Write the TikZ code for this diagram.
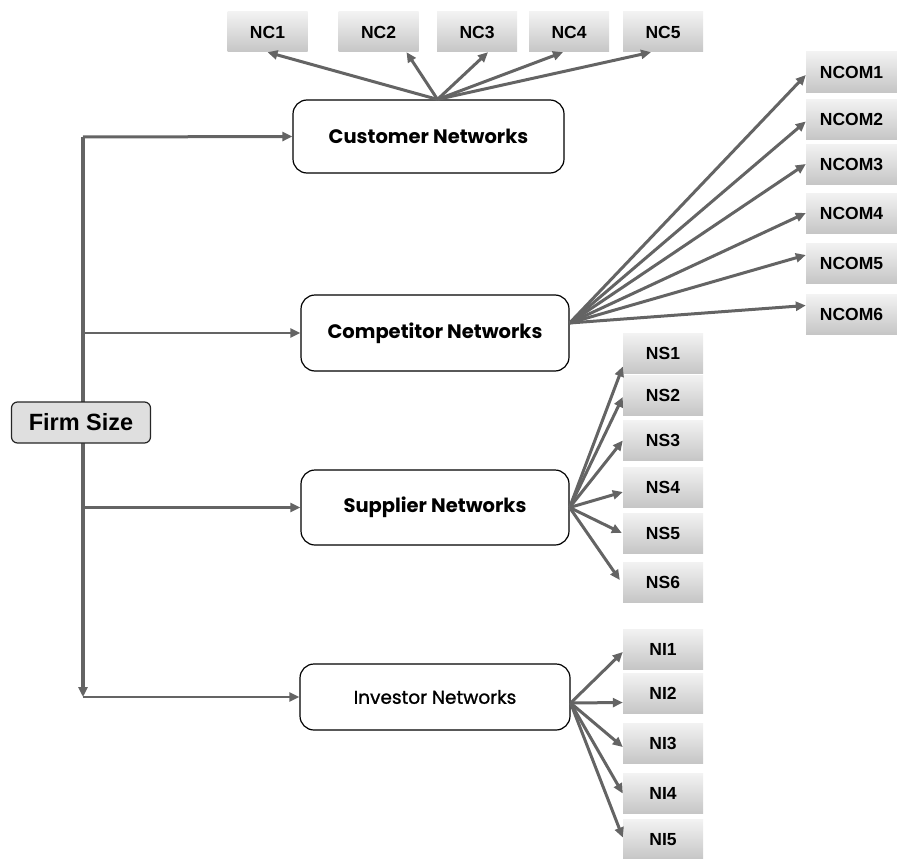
\documentclass[tikz,border=0pt]{standalone}
\usepackage{fontspec}
\setmainfont{Liberation Sans}
\newfontfamily\gothic{Poppins}
\newfontfamily\gothicmed[FakeBold=1.2]{Poppins}
\usetikzlibrary{arrows.meta}

\definecolor{arrowgray}{RGB}{100,100,100}

\tikzset{
    netbox/.style={draw=black, line width=1.2pt, rounded corners=14pt, fill=white, inner sep=0pt,
        font=\gothic\bfseries\fontsize{19.5}{21}\selectfont},
    leaf/.style={top color=gray!10, bottom color=gray!45, inner sep=0pt,
        minimum width=80pt, minimum height=40pt, font=\bfseries\fontsize{17.5}{19}\selectfont},
    conn/.style={draw=arrowgray, line width=3pt, -{Triangle[length=10pt,width=9pt]}},
}

\begin{document}
\begin{tikzpicture}[x=1pt,y=-1pt]
        \useasboundingbox (0,0) rectangle (897,859);

        \node [netbox, minimum width=271pt, minimum height=73pt] (cust) at (428.5,136.5) {Customer Networks};
        \node [netbox, minimum width=268pt, minimum height=76pt] (comp) at (435,333) {Competitor Networks};
        \node [netbox, minimum width=268pt, minimum height=75pt] (supp) at (435,507.5) {Supplier Networks};
        \node [netbox, minimum width=270pt, minimum height=66pt,
            font=\gothicmed\fontsize{18.5}{20}\selectfont] (inv) at (435,697) {Investor Networks};

        \node [leaf] (nc1) at (267.5,32) {NC1};
        \node [leaf] (nc2) at (378.5,32) {NC2};
        \node [leaf] (nc3) at (477,32) {NC3};
        \node [leaf] (nc4) at (569,32) {NC4};
        \node [leaf] (nc5) at (663,32) {NC5};

        \node [leaf, minimum width=91pt] (ncom1) at (851.5,72) {NCOM1};
        \node [leaf, minimum width=91pt] (ncom2) at (851.5,119.5) {NCOM2};
        \node [leaf, minimum width=91pt] (ncom3) at (851.5,164) {NCOM3};
        \node [leaf, minimum width=91pt] (ncom4) at (851.5,213) {NCOM4};
        \node [leaf, minimum width=91pt] (ncom5) at (851.5,263) {NCOM5};
        \node [leaf, minimum width=91pt] (ncom6) at (851.5,314.5) {NCOM6};

        \node [leaf] (ns1) at (663,353.5) {NS1};
        \node [leaf] (ns2) at (663,395) {NS2};
        \node [leaf] (ns3) at (663,440.5) {NS3};
        \node [leaf] (ns4) at (663,487) {NS4};
        \node [leaf] (ns5) at (663,533) {NS5};
        \node [leaf] (ns6) at (663,582) {NS6};

        \node [leaf] (ni1) at (663,649) {NI1};
        \node [leaf] (ni2) at (663,693.5) {NI2};
        \node [leaf] (ni3) at (663,743) {NI3};
        \node [leaf] (ni4) at (663,793.5) {NI4};
        \node [leaf] (ni5) at (663,839.5) {NI5};

        % firm size trunk
        \coordinate (ttop) at (83,137);
        \coordinate (tbot) at (83,697);
        \draw [conn, line width=4pt] (ttop) -- (tbot);
        \draw [conn] (ttop) -- (cust.west);
        \draw [conn, line width=2pt] (ttop |- comp.west) -- (comp.west);
        \draw [conn, line width=3.5pt] (ttop |- supp.west) -- (supp.west);
        \draw [conn, line width=2.5pt] (tbot) -- (inv.west);
        \node [draw=black!85, line width=1.2pt, fill=gray!25, rounded corners=6pt, inner sep=0pt,
            minimum width=139pt, minimum height=41pt, font=\bfseries\fontsize{23.5}{25}\selectfont] (firm) at (81,422.5) {Firm Size};

        % customer
        \coordinate (cfan) at ([xshift=9pt]cust.north);
        \draw [conn] (cfan) -- (nc1.south);
        \draw [conn] (cfan) -- ([xshift=28pt]nc2.south);
        \draw [conn] (cfan) -- ([xshift=11pt]nc3.south);
        \draw [conn] (cfan) -- ([xshift=-6pt]nc4.south);
        \draw [conn] (cfan) -- ([xshift=-12pt]nc5.south);

        % competitor
        \coordinate (kfan) at ([yshift=10pt]comp.east);
        \draw [conn] (kfan) -- ([yshift=-3pt]ncom1.west);
        \draw [conn] (kfan) -- ([yshift=-2pt]ncom2.west);
        \draw [conn] (kfan) -- (ncom3.west);
        \draw [conn] (kfan) -- (ncom4.west);
        \draw [conn] (kfan) -- ([yshift=8pt]ncom5.west);
        \draw [conn] (kfan) -- ([yshift=9pt]ncom6.west);

        % supplier
        \coordinate (sfan) at (supp.east);
        \draw [conn] (sfan) -- ([yshift=-13pt]ns1.west);
        \draw [conn] (sfan) -- ([yshift=-2pt]ns2.west);
        \draw [conn] (sfan) -- (ns3.west);
        \draw [conn] (sfan) -- ([yshift=-5pt]ns4.west);
        \draw [conn] (sfan) -- ([xshift=-1pt]ns5.west);
        \draw [conn] (sfan) -- ([xshift=-3pt,yshift=2pt]ns6.west);

        % investor
        \coordinate (ifan) at ([yshift=-6pt]inv.east);
        \draw [conn] (ifan) -- ([yshift=-3pt]ni1.west);
        \draw [conn] (ifan) -- ([yshift=-9pt]ni2.west);
        \draw [conn] (ifan) -- ([yshift=-4pt]ni3.west);
        \draw [conn] (ifan) -- (ni4.west);
        \draw [conn] (ifan) -- ([yshift=2pt]ni5.west);
    \end{tikzpicture}
\end{document}
